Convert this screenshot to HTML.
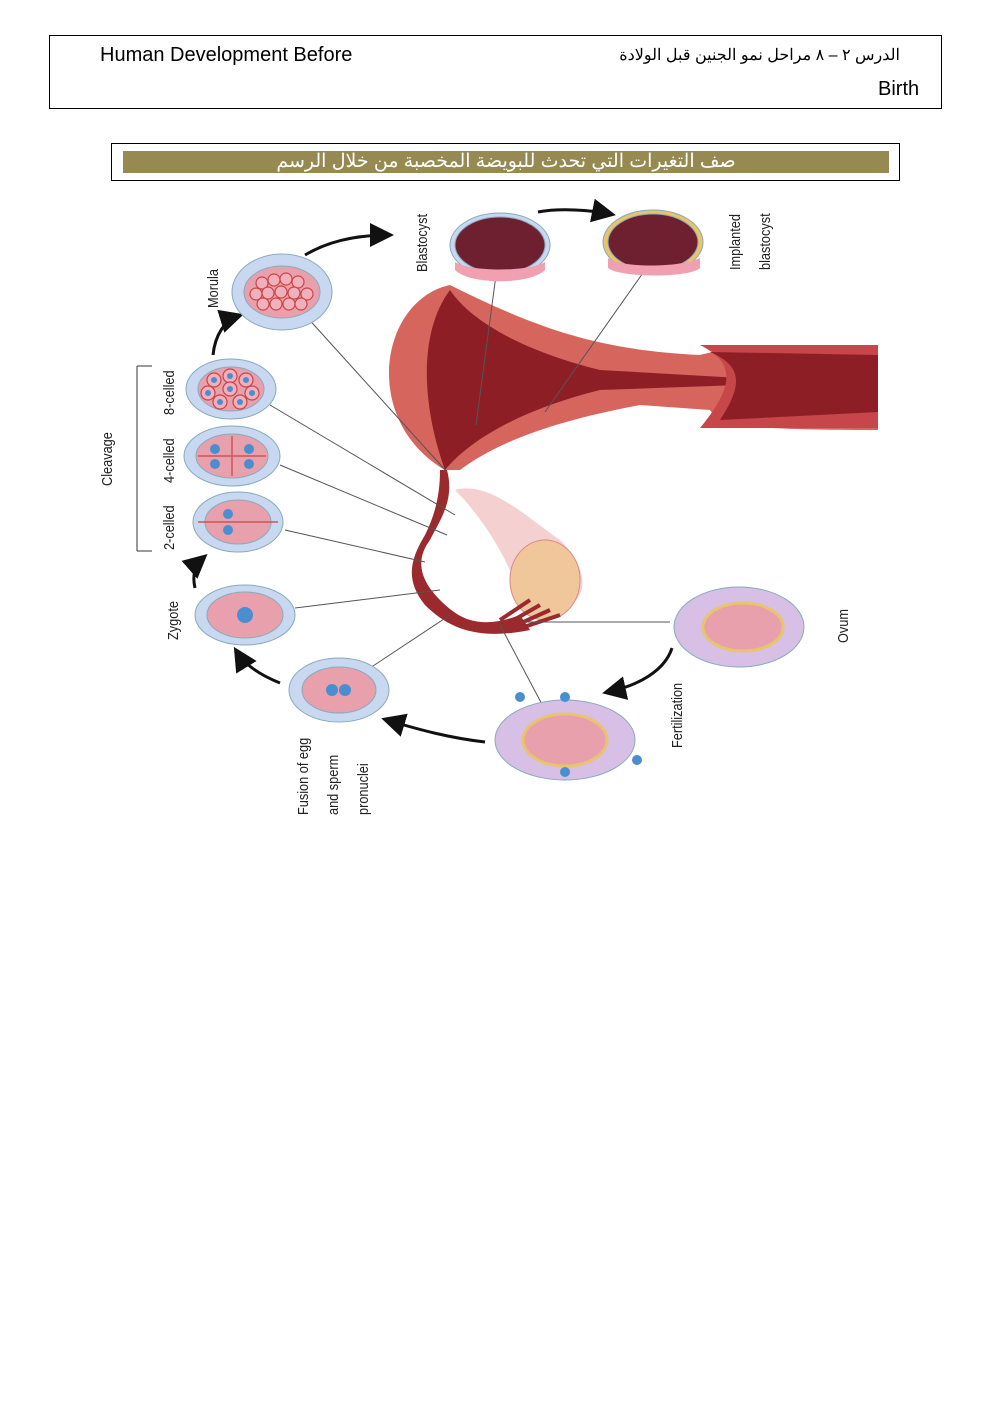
<!DOCTYPE html>
<html><head><meta charset="utf-8"><style>
body{margin:0;background:#fff;width:992px;height:1403px;position:relative;overflow:hidden;font-family:"Liberation Sans","Noto Sans CJK SC",sans-serif}
.hdr{position:absolute;left:49px;top:35px;width:891px;height:72px;border:1px solid #000}
.t{position:absolute;font-size:20px;color:#000}
.box{position:absolute;left:111px;top:143px;width:787px;height:36px;border:1.5px solid #000}
.bar{position:absolute;left:11px;top:7px;width:766px;height:22px;background:#968a52;color:#fff;text-align:center;font-size:19px;line-height:22px}
</style></head><body>
<div class="hdr">
<div class="t" style="left:50px;top:8px">Human Development Before</div>
<div class="t" style="left:555px;top:9px;font-size:16px;width:295px;text-align:right" dir="rtl">الدرس ٢ – ٨  مراحل نمو الجنين قبل الولادة</div>
<div class="t" style="left:828px;top:42px">Birth</div>
</div>
<div class="box"><div class="bar" dir="rtl">صف التغيرات التي تحدث للبويضة المخصبة من خلال الرسم</div></div>
<svg width="992" height="1403" style="position:absolute;left:0;top:0" font-family="Liberation Sans Narrow, Liberation Sans, sans-serif" font-size="15">
<defs><marker id="a" markerWidth="8" markerHeight="8" refX="6" refY="4" orient="auto"><path d="M0,0 L8,4 L0,8 z" fill="#111"/></marker></defs>
<path d="M450,285 C380,300 360,420 445,470 L460,470 C500,440 560,420 640,405 L710,410 C720,425 740,430 878,430 L878,345 C740,345 720,350 700,355 C600,350 540,330 450,285z" fill="#d6655e"/>
<path d="M450,290 C420,330 420,400 445,470 C470,440 520,410 600,390 L740,385 L740,378 L600,370 C520,350 470,320 450,290z" fill="#8e1e26"/>
<path d="M700,345 C730,360 740,380 700,428 L878,428 L878,345z" fill="#c6464a"/>
<path d="M710,352 C740,365 745,382 720,420 L878,412 L878,355z" fill="#8e1e26"/>
<path d="M447,470 C455,500 440,520 430,540 C415,560 420,580 440,600 C460,620 480,630 520,615 L530,630 C480,640 450,630 425,605 C405,580 410,560 425,535 C435,515 440,495 440,470z" fill="#9a2a2e"/>
<path d="M455,490 C490,480 530,520 560,540 C590,570 590,600 560,610 C530,615 515,580 505,560 C490,530 470,505 455,490z" fill="#f2c4c4" opacity=".8"/>
<ellipse cx="545" cy="580" rx="35" ry="40" fill="#f0c79a" stroke="#d88"/>
<path d="M500,620 L530,600 M505,625 L540,605 M510,628 L550,610 M515,630 L560,615" stroke="#9a2a2e" stroke-width="4"/>
<g stroke="#555" stroke-width="1" fill="none">
<line x1="305" y1="315" x2="447" y2="472"/><line x1="270" y1="405" x2="455" y2="515"/><line x1="280" y1="465" x2="447" y2="535"/><line x1="285" y1="530" x2="425" y2="562"/>
<line x1="295" y1="608" x2="440" y2="590"/><line x1="370" y1="668" x2="450" y2="615"/><line x1="500" y1="245" x2="476" y2="425"/><line x1="645" y1="270" x2="545" y2="412"/>
<line x1="500" y1="625" x2="545" y2="710"/><line x1="525" y1="622" x2="670" y2="622"/>
</g>
<g stroke="#111" stroke-width="3" fill="none" marker-end="url(#a)">
<path d="M305,255 C330,240 360,235 388,235"/><path d="M538,212 C560,208 590,210 610,214"/><path d="M213,355 C215,335 225,320 238,316"/>
<path d="M195,588 C192,575 195,565 203,558"/><path d="M280,683 C260,675 245,665 237,652"/><path d="M485,742 C450,738 420,730 387,720"/><path d="M672,648 C665,670 640,685 608,692"/>
</g>
<g stroke="#8ab" stroke-width="1">
<ellipse cx="282" cy="292" rx="50" ry="38" fill="#c8d8f0"/><ellipse cx="282" cy="292" rx="38" ry="26" fill="#e9a0ad"/>
<ellipse cx="231" cy="389" rx="45" ry="30" fill="#c8d8f0"/><ellipse cx="231" cy="389" rx="33" ry="22" fill="#e9a0ad"/>
<ellipse cx="232" cy="456" rx="48" ry="30" fill="#c8d8f0"/><ellipse cx="232" cy="456" rx="36" ry="22" fill="#e9a0ad"/>
<ellipse cx="238" cy="522" rx="45" ry="30" fill="#c8d8f0"/><ellipse cx="238" cy="522" rx="33" ry="22" fill="#e9a0ad"/>
<ellipse cx="245" cy="615" rx="50" ry="30" fill="#c8d8f0"/><ellipse cx="245" cy="615" rx="38" ry="23" fill="#e9a0ad"/>
<ellipse cx="339" cy="690" rx="50" ry="32" fill="#c8d8f0"/><ellipse cx="339" cy="690" rx="37" ry="23" fill="#e9a0ad"/>
<ellipse cx="500" cy="245" rx="50" ry="32" fill="#c8d8f0"/><ellipse cx="500" cy="245" rx="45" ry="28" fill="#6e2030"/>
<ellipse cx="653" cy="242" rx="50" ry="32" fill="#e8c46a"/><ellipse cx="653" cy="242" rx="45" ry="28" fill="#6e2030"/>
<ellipse cx="739" cy="627" rx="65" ry="40" fill="#d7bfe6"/><ellipse cx="743" cy="627" rx="40" ry="24" fill="#e9a0ad" stroke="#e8c46a" stroke-width="3"/>
<ellipse cx="565" cy="740" rx="70" ry="40" fill="#d7bfe6"/><ellipse cx="565" cy="740" rx="42" ry="26" fill="#e9a0ad" stroke="#e8c46a" stroke-width="3"/>
</g>
<g stroke="#c55" stroke-width="1.5"><line x1="198" y1="522" x2="278" y2="522"/><line x1="198" y1="456" x2="266" y2="456"/><line x1="232" y1="436" x2="232" y2="476"/></g>
<g fill="#f0b0bc" stroke="#c44" stroke-width="1.2">
<circle cx="262" cy="283" r="6"/><circle cx="274" cy="280" r="6"/><circle cx="286" cy="279" r="6"/><circle cx="298" cy="282" r="6"/><circle cx="256" cy="294" r="6"/><circle cx="268" cy="293" r="6"/><circle cx="281" cy="292" r="6"/><circle cx="294" cy="293" r="6"/><circle cx="307" cy="294" r="6"/><circle cx="263" cy="304" r="6"/><circle cx="276" cy="304" r="6"/><circle cx="289" cy="304" r="6"/><circle cx="301" cy="304" r="6"/>
<circle cx="214" cy="380" r="7"/><circle cx="230" cy="376" r="7"/><circle cx="246" cy="380" r="7"/><circle cx="208" cy="393" r="7"/><circle cx="230" cy="389" r="7"/><circle cx="252" cy="393" r="7"/><circle cx="220" cy="402" r="7"/><circle cx="240" cy="402" r="7"/>
</g>
<g fill="#4a8ed0"><circle cx="245" cy="615" r="8"/><circle cx="332" cy="690" r="6"/><circle cx="345" cy="690" r="6"/><circle cx="228" cy="514" r="5"/><circle cx="228" cy="530" r="5"/>
<circle cx="215" cy="449" r="5"/><circle cx="249" cy="449" r="5"/><circle cx="215" cy="464" r="5"/><circle cx="249" cy="464" r="5"/>
<circle cx="520" cy="697" r="5"/><circle cx="565" cy="697" r="5"/><circle cx="565" cy="772" r="5"/><circle cx="637" cy="760" r="5"/>
<circle cx="230" cy="389" r="3"/><circle cx="214" cy="380" r="3"/><circle cx="246" cy="380" r="3"/><circle cx="208" cy="393" r="3"/><circle cx="252" cy="393" r="3"/><circle cx="220" cy="402" r="3"/><circle cx="240" cy="402" r="3"/><circle cx="230" cy="376" r="3"/></g>
<path d="M455,270 C470,285 530,285 545,270 L545,262 C530,272 470,272 455,262z" fill="#f0a0b0"/>
<path d="M608,268 C620,278 690,278 700,268 L700,258 C680,268 620,268 608,258z" fill="#f0a0b0"/>
<line x1="137" y1="366" x2="137" y2="551" stroke="#333"/><line x1="137" y1="366" x2="152" y2="366" stroke="#333"/><line x1="137" y1="551" x2="152" y2="551" stroke="#333"/>
<g fill="#222">
<text transform="translate(218,308) rotate(-90) scale(0.85,1)">Morula</text>
<text transform="translate(174,415) rotate(-90) scale(0.85,1)">8-celled</text>
<text transform="translate(174,483) rotate(-90) scale(0.85,1)">4-celled</text>
<text transform="translate(174,550) rotate(-90) scale(0.85,1)">2-celled</text>
<text transform="translate(112,486) rotate(-90) scale(0.85,1)">Cleavage</text>
<text transform="translate(178,640) rotate(-90) scale(0.85,1)">Zygote</text>
<text transform="translate(427,272) rotate(-90) scale(0.85,1)">Blastocyst</text>
<text transform="translate(740,270) rotate(-90) scale(0.85,1)">Implanted</text>
<text transform="translate(770,270) rotate(-90) scale(0.85,1)">blastocyst</text>
<text transform="translate(848,643) rotate(-90) scale(0.85,1)">Ovum</text>
<text transform="translate(682,748) rotate(-90) scale(0.85,1)">Fertilization</text>
<text transform="translate(308,815) rotate(-90) scale(0.85,1)">Fusion of egg</text>
<text transform="translate(338,815) rotate(-90) scale(0.85,1)">and sperm</text>
<text transform="translate(368,815) rotate(-90) scale(0.85,1)">pronuclei</text>
</g>
</svg>
</body></html>
